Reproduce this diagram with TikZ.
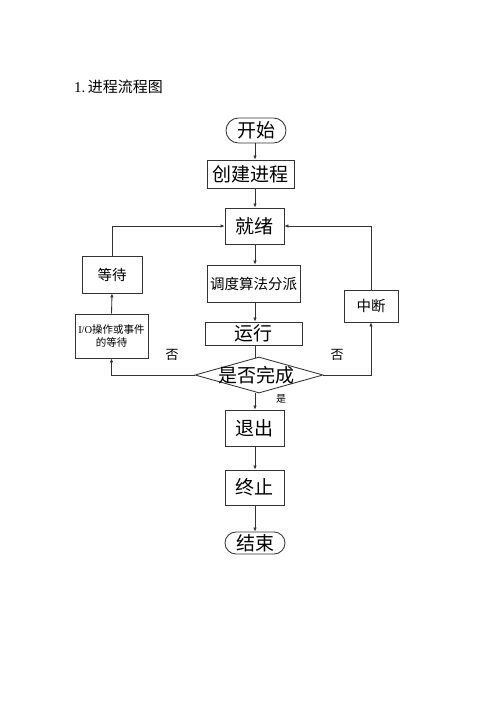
\documentclass[tikz,border=0pt]{standalone}
\usepackage{fontspec}
\setmainfont{Liberation Serif}
\newfontfamily\cjk{Noto Sans CJK SC}
\usetikzlibrary{shapes.geometric,shapes.misc,arrows.meta}
\begin{document}
\begin{tikzpicture}[x=1pt,y=-1pt,
  every node/.style={inner sep=0pt, font=\cjk},
  box/.style={draw=black!80, line width=0.85pt, rectangle},
  term/.style={draw=black!80, line width=0.85pt, rounded rectangle},
  arr/.style={draw=black!80, line width=0.85pt, -{Latex[length=4pt,width=3.5pt]}},
  ln/.style={draw=black!80, line width=0.85pt},
  big/.style={font=\cjk\fontsize{19}{21}\selectfont},
  mid/.style={font=\cjk\fontsize{14.5}{16}\selectfont},
  small/.style={font=\cjk\fontsize{10.5}{13}\selectfont, align=center},
  lab/.style={font=\cjk\fontsize{13}{14}\selectfont}]
\useasboundingbox (0,0) rectangle (500,707);
\fill[white] (0,0) rectangle (500,707);

\node[anchor=west, font=\fontsize{15}{17}\selectfont] (title) at (74,87) {1.\,{\cjk 进程流程图}};

\node[term, big, minimum width=60, minimum height=25] (start) at (256,130.5) {开始};
\node[box, big, minimum width=87, minimum height=28] (create) at (250.5,174) {创建进程};
\node[box, big, minimum width=59, minimum height=36] (ready) at (254.5,226) {就绪};
\node[box, mid, minimum width=93, minimum height=37] (sched) at (253.5,283.5) {调度算法分派};
\node[box, big, minimum width=97, minimum height=23] (run) at (253.5,333.5) {运行};
\node[diamond, draw=black!80, line width=0.85pt, minimum width=128, minimum height=36, aspect=3.5] (dec) at (259,375) {};
\node[big] (dectext) at (256,375) {是否完成};
\node[box, big, minimum width=59, minimum height=36] (exit) at (254.5,428) {退出};
\node[box, big, minimum width=59, minimum height=35] (stop) at (254.5,487.5) {终止};
\node[term, big, minimum width=60, minimum height=22] (end) at (255,543) {结束};

\node[box, mid, minimum width=60, minimum height=37] (wait) at (112,274.5) {等待};
\node[box, small, minimum width=73, minimum height=44] (io) at (111.5,336) {{\rmfamily I/O}操作或事件\\的等待};
\node[box, mid, minimum width=54, minimum height=32] (intr) at (371,306) {中断};

\node[lab] (no1) at (172,355) {否};
\node[lab] (no2) at (337,355) {否};
\node[font=\cjk\fontsize{10}{12}\selectfont] (yes) at (281,399) {是};

\draw[arr] (start.south -| 255,0) -- (create.north -| 255,0);
\draw[arr] (create.south -| 255,0) -- (ready.north -| 255,0);
\draw[arr] (ready.south -| 255,0) -- (sched.north -| 255,0);
\draw[arr] (sched.south -| 255,0) -- (run.north -| 255,0);
\draw[ln] (run.south -| 255,0) -- (255,358);
\draw[arr] (dec.south -| 255,0) -- (exit.north -| 255,0);
\draw[arr] (exit.south -| 255,0) -- (stop.north -| 255,0);
\draw[arr] (stop.south -| 255,0) -- (end.north -| 255,0);

\draw[arr] (dec.west) -| (io.south);
\draw[arr] (io.north) -- (wait.south);
\draw[arr] (wait.north) |- (ready.west);
\draw[arr] (dec.east) -| (intr.south);
\draw[arr] (intr.north) |- (ready.east);
\end{tikzpicture}
\end{document}
